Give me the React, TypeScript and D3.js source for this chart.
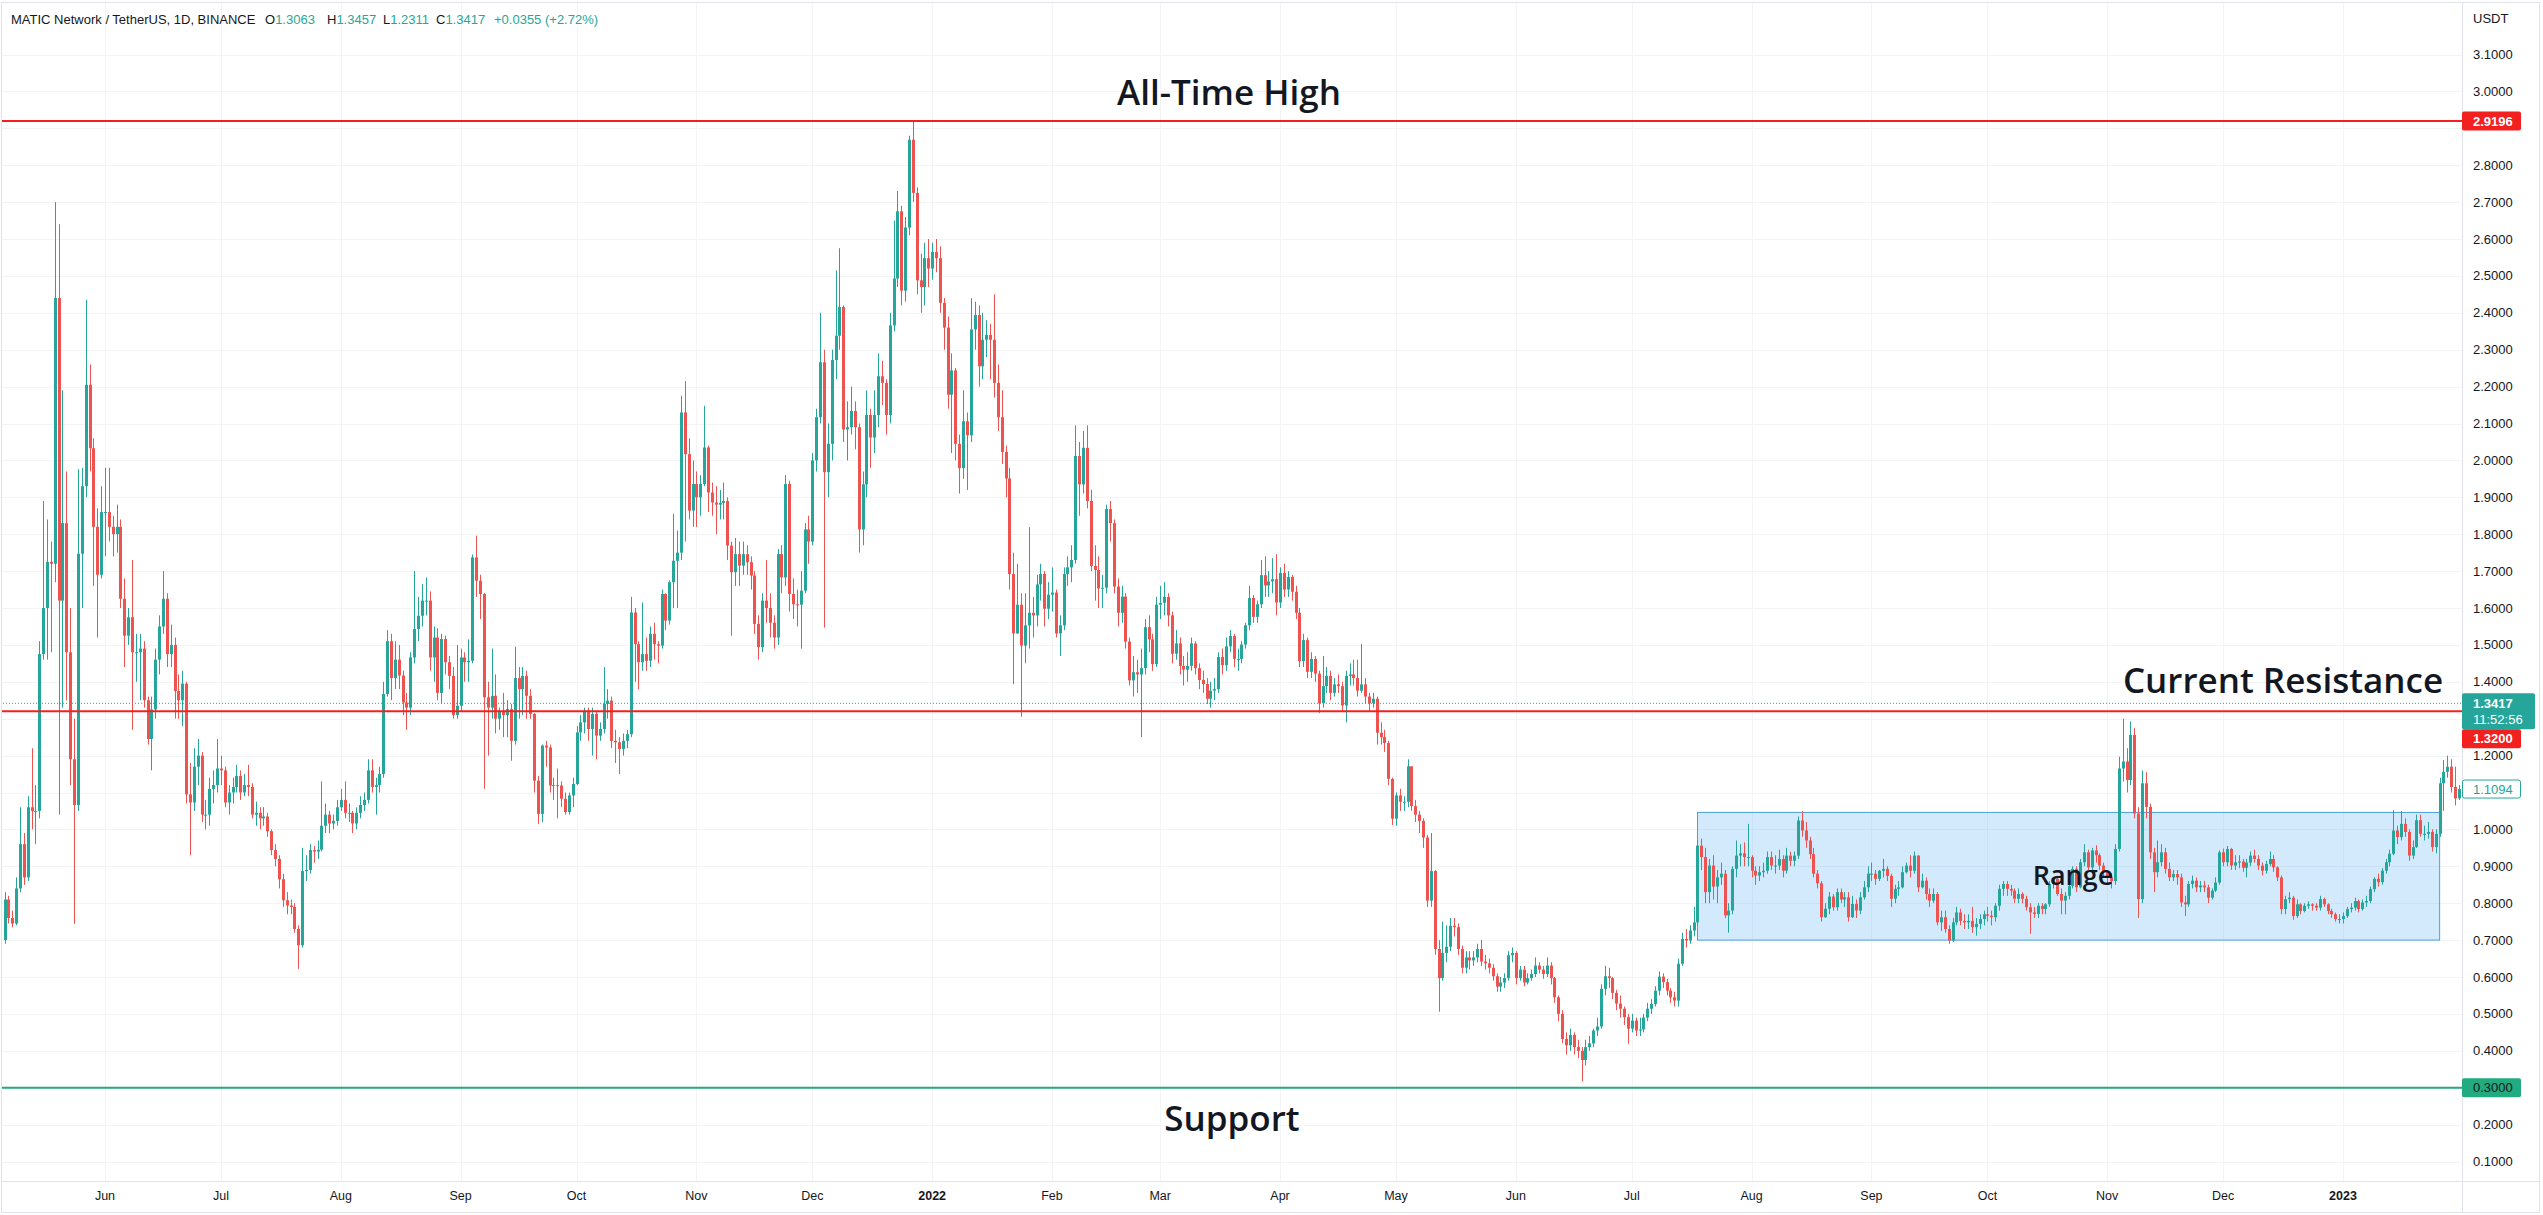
import React from 'react';
import * as d3 from 'd3';

const W = 2543;
const H = 1215;
const START_UTC = Date.UTC(2021, 4, 6); // first visible daily candle
const DAY = 86400000;
const FIRST_OPEN = 0.70;

// Daily closes, May 6 2021 -> Jan 30 2023
const closes: number[] = [
  // May 2021
  0.81,0.76,0.745,0.84,0.96,0.87,1.06,1.05,1.05,1.475,1.60,1.725,1.72,2.44,1.62,1.83,1.48,1.19,1.066,1.747,1.93,2.205,2.033,1.82,1.69,1.86,
  // Jun 2021
  1.86,1.82,1.80,1.82,1.625,1.525,1.575,1.48,1.48,1.49,1.35,1.245,1.325,1.46,1.55,1.625,1.475,1.50,1.375,1.35,1.395,1.095,1.073,1.17,1.20,1.04,1.04,1.11,1.12,1.165,
  // Jul 2021
  1.16,1.073,1.10,1.115,1.145,1.10,1.12,1.115,1.04,1.045,1.03,1.035,0.995,0.944,0.92,0.865,0.808,0.794,0.79,0.73,0.686,0.887,0.89,0.944,0.94,0.945,1.01,1.04,1.016,1.023,1.06,
  // Aug 2021
  1.08,1.045,1.045,1.016,1.045,1.066,1.08,1.16,1.115,1.12,1.15,1.367,1.51,1.41,1.46,1.417,1.344,1.33,1.466,1.543,1.579,1.62,1.62,1.466,1.52,1.37,1.516,1.453,1.416,1.31,1.335,
  // Sep 2021
  1.466,1.453,1.457,1.737,1.674,1.638,1.358,1.33,1.362,1.30,1.32,1.31,1.326,1.24,1.41,1.38,1.416,1.362,1.313,1.132,1.042,1.227,1.222,1.119,1.12,1.119,1.083,1.047,1.092,1.123,
  // Oct 2021
  1.263,1.29,1.322,1.272,1.313,1.254,1.272,1.34,1.349,1.24,1.236,1.218,1.24,1.258,1.588,1.502,1.453,1.475,1.457,1.53,1.502,1.498,1.638,1.566,1.67,1.728,1.75,2.13,2.017,1.864,1.936,
  // Nov 2021
  1.90,1.936,2.035,1.913,1.886,1.88,1.885,1.89,1.769,1.697,1.746,1.715,1.746,1.724,1.688,1.557,1.494,1.62,1.60,1.56,1.52,1.746,1.683,1.936,1.638,1.61,1.609,1.647,1.813,1.78,
  // Dec 2021
  2.00,2.117,2.266,1.968,2.045,2.272,2.338,2.416,2.084,2.09,2.134,2.09,1.813,1.935,2.123,2.062,2.123,2.228,2.21,2.123,2.366,2.493,2.675,2.46,2.631,2.869,2.725,2.488,2.47,2.548,2.52,
  // Jan 2022
  2.565,2.548,2.427,2.36,2.178,2.244,2.045,1.979,2.106,2.068,2.355,2.394,2.255,2.327,2.34,2.327,2.21,2.117,2.023,1.951,1.692,1.531,1.609,1.498,1.553,1.587,1.58,1.664,1.692,1.598,1.636,
  // Feb 2022
  1.642,1.531,1.553,1.692,1.71,1.73,2.012,1.935,2.034,1.89,1.714,1.703,1.653,1.655,1.868,1.83,1.658,1.587,1.631,1.509,1.404,1.426,1.42,1.437,1.548,1.515,1.448,1.609,
  // Mar 2022
  1.614,1.63,1.58,1.476,1.504,1.443,1.433,1.443,1.504,1.437,1.405,1.394,1.354,1.376,1.38,1.467,1.445,1.496,1.524,1.462,1.462,1.501,1.553,1.627,1.576,1.61,1.689,1.661,1.672,1.678,1.615,
  // Apr 2022
  1.695,1.65,1.684,1.644,1.587,1.456,1.513,1.427,1.462,1.422,1.342,1.388,1.416,1.37,1.393,1.388,1.336,1.416,1.42,1.41,1.376,1.393,1.36,1.342,1.354,1.262,1.25,1.234,1.137,1.029,
  // May 2022
  1.092,1.075,1.075,1.171,1.063,1.04,1.023,0.978,0.807,0.887,0.676,0.597,0.665,0.682,0.739,0.735,0.676,0.625,0.653,0.645,0.653,0.676,0.642,0.637,0.625,0.602,0.574,0.585,0.597,0.659,0.665,
  // Jun 2022
  0.597,0.62,0.585,0.597,0.608,0.631,0.62,0.608,0.631,0.597,0.545,0.50,0.432,0.415,0.443,0.41,0.40,0.375,0.41,0.42,0.455,0.466,0.568,0.602,0.597,0.557,0.528,0.514,0.491,0.46,
  // Jul 2022
  0.482,0.455,0.458,0.49,0.514,0.527,0.563,0.601,0.586,0.563,0.545,0.536,0.636,0.703,0.699,0.726,0.748,0.956,0.925,0.83,0.902,0.845,0.87,0.88,0.767,0.78,0.893,0.929,0.935,0.925,0.925,
  // Aug 2022
  0.888,0.875,0.884,0.888,0.925,0.902,0.902,0.92,0.888,0.929,0.915,0.929,1.024,0.997,0.97,0.933,0.88,0.854,0.762,0.785,0.818,0.789,0.83,0.81,0.816,0.762,0.798,0.78,0.816,0.843,0.88,
  // Sep 2022
  0.88,0.866,0.888,0.893,0.874,0.812,0.839,0.843,0.884,0.902,0.888,0.929,0.843,0.861,0.825,0.807,0.825,0.748,0.762,0.73,0.699,0.748,0.775,0.752,0.748,0.752,0.735,0.744,0.757,0.77,
  // Oct 2022
  0.766,0.762,0.793,0.839,0.852,0.839,0.834,0.812,0.825,0.812,0.789,0.775,0.771,0.793,0.784,0.797,0.852,0.866,0.825,0.807,0.82,0.847,0.893,0.843,0.911,0.938,0.897,0.943,0.93,0.902,0.884,
  // Nov 2022
  0.87,0.86,0.947,1.165,1.184,1.134,1.256,1.043,0.811,1.125,1.061,0.938,0.884,0.911,0.938,0.893,0.87,0.879,0.87,0.802,0.797,0.852,0.861,0.843,0.848,0.843,0.815,0.834,0.856,0.938,
  // Dec 2022
  0.911,0.947,0.902,0.911,0.913,0.896,0.91,0.929,0.92,0.902,0.888,0.906,0.92,0.897,0.87,0.784,0.811,0.815,0.765,0.797,0.779,0.793,0.797,0.793,0.788,0.811,0.797,0.779,0.77,0.757,0.757,
  // Jan 2023
  0.765,0.784,0.788,0.806,0.784,0.802,0.806,0.838,0.866,0.857,0.888,0.911,0.934,0.997,0.979,1.015,0.993,0.929,0.952,1.025,0.988,0.988,0.993,0.952,0.988,1.125,1.156,1.17,1.115,1.084,1.1094,
];

const highs: number[] = [
  0.83,0.82,0.78,0.87,1.06,0.99,1.09,1.22,1.12,1.51,1.89,1.84,1.78,2.70,2.64,2.19,1.97,1.60,1.30,1.976,1.98,2.435,2.26,2.06,1.87,1.93,
  1.98,1.98,1.85,1.88,1.84,1.68,1.60,1.73,1.53,1.53,1.51,1.36,1.36,1.49,1.58,1.70,1.64,1.555,1.52,1.42,1.43,1.40,1.18,1.22,1.245,1.21,1.08,1.14,1.16,1.245,
  1.20,1.17,1.12,1.14,1.175,1.16,1.15,1.175,1.125,1.075,1.06,1.06,1.045,1.00,0.96,0.93,0.88,0.83,0.81,0.80,0.74,0.95,0.93,0.96,0.955,0.97,1.13,1.07,1.05,1.04,1.08,
  1.11,1.13,1.07,1.05,1.06,1.09,1.10,1.19,1.19,1.14,1.17,1.40,1.54,1.53,1.51,1.50,1.43,1.37,1.48,1.70,1.63,1.665,1.683,1.645,1.55,1.545,1.53,1.525,1.47,1.44,1.50,
  1.49,1.48,1.515,1.745,1.796,1.69,1.64,1.40,1.49,1.42,1.33,1.37,1.35,1.34,1.495,1.44,1.44,1.43,1.38,1.315,1.145,1.23,1.24,1.23,1.14,1.165,1.13,1.10,1.10,1.14,
  1.28,1.31,1.33,1.33,1.33,1.32,1.29,1.44,1.38,1.36,1.27,1.25,1.26,1.27,1.63,1.60,1.51,1.615,1.52,1.55,1.56,1.51,1.65,1.64,1.675,1.855,1.81,2.175,2.215,2.06,2.00,
  1.97,1.96,2.148,2.04,1.94,1.93,1.92,1.94,1.90,1.78,1.79,1.78,1.78,1.77,1.74,1.70,1.58,1.64,1.73,1.64,1.58,1.76,1.77,1.96,1.945,1.68,1.65,1.70,1.83,1.85,
  2.02,2.14,2.40,2.30,2.10,2.30,2.515,2.575,2.42,2.16,2.20,2.16,2.10,1.97,2.19,2.14,2.19,2.29,2.27,2.22,2.40,2.65,2.73,2.69,2.66,2.88,2.919,2.74,2.56,2.59,2.60,
  2.59,2.60,2.58,2.44,2.39,2.29,2.25,2.07,2.19,2.13,2.44,2.43,2.42,2.40,2.38,2.37,2.45,2.26,2.19,2.04,1.98,1.75,1.72,1.64,1.64,1.819,1.63,1.69,1.72,1.70,1.67,
  1.71,1.65,1.58,1.71,1.74,1.77,2.095,2.05,2.08,2.095,1.92,1.77,1.74,1.69,1.88,1.89,1.84,1.68,1.66,1.64,1.52,1.47,1.46,1.49,1.57,1.58,1.53,1.63,
  1.66,1.67,1.64,1.59,1.54,1.52,1.47,1.48,1.52,1.51,1.45,1.43,1.41,1.40,1.41,1.48,1.49,1.52,1.54,1.53,1.49,1.51,1.56,1.66,1.635,1.62,1.73,1.74,1.70,1.735,1.746,
  1.71,1.72,1.70,1.69,1.66,1.60,1.53,1.52,1.48,1.47,1.43,1.47,1.44,1.43,1.41,1.42,1.40,1.43,1.45,1.46,1.46,1.503,1.41,1.37,1.37,1.36,1.29,1.27,1.24,1.14,
  1.10,1.11,1.09,1.19,1.17,1.08,1.05,1.03,0.985,0.99,0.89,0.70,0.75,0.74,0.76,0.76,0.745,0.685,0.67,0.67,0.67,0.69,0.70,0.66,0.65,0.635,0.61,0.60,0.61,0.67,0.68,
  0.67,0.63,0.63,0.61,0.62,0.653,0.64,0.63,0.653,0.64,0.60,0.55,0.51,0.45,0.46,0.45,0.43,0.41,0.43,0.44,0.46,0.49,0.58,0.63,0.625,0.60,0.565,0.55,0.52,0.50,
  0.50,0.49,0.49,0.50,0.53,0.54,0.575,0.615,0.61,0.595,0.57,0.56,0.65,0.72,0.73,0.74,0.79,0.97,0.975,0.95,0.92,0.93,0.89,0.91,0.89,0.80,0.90,0.97,0.96,0.965,1.015,
  0.93,0.90,0.90,0.91,0.94,0.94,0.93,0.945,0.93,0.95,0.94,0.94,1.035,1.05,1.02,0.98,0.95,0.89,0.86,0.80,0.83,0.825,0.84,0.84,0.83,0.83,0.82,0.81,0.83,0.86,0.90,
  0.91,0.89,0.89,0.92,0.90,0.88,0.85,0.86,0.90,0.91,0.93,0.94,0.93,0.88,0.87,0.84,0.84,0.83,0.78,0.78,0.74,0.76,0.79,0.785,0.77,0.77,0.79,0.76,0.77,0.78,
  0.79,0.78,0.80,0.85,0.86,0.86,0.85,0.84,0.84,0.83,0.82,0.80,0.79,0.80,0.80,0.80,0.86,0.87,0.875,0.84,0.83,0.85,0.90,0.90,0.92,0.96,0.945,0.95,0.957,0.935,0.91,
  0.89,0.88,0.96,1.197,1.30,1.22,1.293,1.275,1.06,1.16,1.155,1.07,0.95,0.97,0.96,0.95,0.91,0.89,0.89,0.88,0.82,0.86,0.875,0.87,0.86,0.86,0.85,0.84,0.87,0.943,
  0.948,0.955,0.95,0.93,0.93,0.92,0.92,0.94,0.945,0.93,0.91,0.915,0.94,0.93,0.90,0.875,0.82,0.83,0.82,0.81,0.80,0.80,0.805,0.80,0.80,0.82,0.815,0.80,0.785,0.775,0.77,
  0.775,0.79,0.80,0.815,0.81,0.81,0.82,0.845,0.87,0.88,0.895,0.92,0.945,1.052,1.01,1.05,1.03,1.00,0.97,1.04,1.04,1.01,1.02,1.00,1.00,1.14,1.188,1.20,1.19,1.17,1.12,
];

const lows: number[] = [
  0.69,0.745,0.735,0.74,0.83,0.85,0.86,1.00,0.96,1.03,1.46,1.46,1.48,1.67,1.04,1.33,1.35,1.12,0.744,1.05,1.60,1.90,1.97,1.66,1.52,1.68,
  1.74,1.78,1.74,1.75,1.60,1.44,1.50,1.27,1.40,1.35,1.33,1.23,1.16,1.30,1.42,1.53,1.44,1.44,1.30,1.30,1.28,1.07,0.93,1.05,1.12,1.02,1.00,1.01,1.07,1.10,
  1.12,1.06,1.04,1.07,1.10,1.08,1.09,1.09,1.03,1.01,1.00,1.01,0.98,0.93,0.90,0.84,0.79,0.77,0.77,0.72,0.622,0.68,0.86,0.88,0.91,0.92,0.94,0.99,0.99,1.00,1.01,
  1.05,1.03,1.02,0.99,1.00,1.03,1.05,1.07,1.10,1.04,1.10,1.14,1.36,1.35,1.38,1.38,1.31,1.27,1.31,1.45,1.51,1.55,1.58,1.43,1.40,1.35,1.34,1.42,1.38,1.30,1.30,
  1.32,1.40,1.40,1.45,1.63,1.57,1.11,1.20,1.30,1.26,1.27,1.25,1.25,1.186,1.23,1.30,1.31,1.30,1.30,1.10,1.015,1.02,1.17,1.10,1.08,1.03,1.06,1.04,1.04,1.06,
  1.12,1.24,1.26,1.24,1.20,1.19,1.24,1.26,1.30,1.22,1.18,1.15,1.20,1.22,1.25,1.40,1.38,1.43,1.43,1.44,1.46,1.45,1.49,1.54,1.555,1.60,1.60,1.73,1.78,1.84,1.82,
  1.82,1.85,1.93,1.86,1.85,1.80,1.84,1.84,1.73,1.525,1.66,1.66,1.69,1.69,1.65,1.53,1.46,1.48,1.56,1.52,1.49,1.50,1.64,1.66,1.59,1.57,1.55,1.49,1.64,1.72,
  1.77,1.97,2.10,1.547,1.90,2.00,2.22,2.30,2.05,2.00,2.07,2.03,1.75,1.77,1.90,1.98,2.02,2.09,2.15,2.07,2.10,2.35,2.47,2.42,2.43,2.61,2.70,2.45,2.40,2.42,2.47,
  2.49,2.51,2.40,2.30,2.14,2.02,2.00,1.91,1.95,1.92,2.05,2.30,2.20,2.22,2.28,2.22,2.17,2.08,1.99,1.90,1.65,1.393,1.53,1.305,1.45,1.49,1.52,1.55,1.62,1.55,1.57,
  1.59,1.52,1.47,1.54,1.66,1.67,1.72,1.85,1.91,1.87,1.70,1.62,1.60,1.60,1.64,1.78,1.64,1.55,1.56,1.49,1.39,1.36,1.37,1.25,1.42,1.48,1.43,1.44,
  1.57,1.58,1.55,1.45,1.46,1.42,1.39,1.40,1.43,1.42,1.38,1.37,1.34,1.33,1.35,1.37,1.42,1.43,1.48,1.44,1.43,1.45,1.49,1.54,1.56,1.56,1.60,1.63,1.63,1.64,1.58,
  1.60,1.63,1.63,1.62,1.57,1.44,1.44,1.41,1.41,1.40,1.315,1.33,1.37,1.35,1.36,1.37,1.32,1.29,1.39,1.39,1.36,1.37,1.34,1.32,1.33,1.23,1.23,1.21,1.12,1.012,
  1.01,1.05,1.05,1.06,1.05,1.02,0.99,0.95,0.79,0.79,0.66,0.506,0.59,0.64,0.67,0.71,0.66,0.61,0.61,0.62,0.63,0.64,0.63,0.62,0.61,0.59,0.56,0.56,0.57,0.59,0.64,
  0.58,0.59,0.575,0.58,0.59,0.60,0.61,0.595,0.60,0.58,0.53,0.48,0.42,0.39,0.40,0.39,0.38,0.317,0.36,0.40,0.41,0.44,0.46,0.55,0.57,0.54,0.51,0.49,0.47,0.419,
  0.45,0.44,0.44,0.45,0.48,0.50,0.52,0.55,0.57,0.55,0.53,0.52,0.52,0.63,0.68,0.69,0.71,0.74,0.89,0.80,0.80,0.81,0.80,0.85,0.76,0.72,0.77,0.87,0.90,0.90,0.90,
  0.87,0.85,0.86,0.87,0.88,0.89,0.88,0.89,0.87,0.88,0.90,0.90,0.92,0.98,0.95,0.92,0.87,0.84,0.75,0.76,0.77,0.78,0.78,0.80,0.79,0.75,0.76,0.76,0.77,0.81,0.83,
  0.86,0.85,0.86,0.87,0.86,0.79,0.80,0.82,0.84,0.88,0.87,0.88,0.83,0.84,0.81,0.79,0.80,0.74,0.725,0.72,0.69,0.695,0.74,0.74,0.73,0.73,0.72,0.712,0.73,0.74,
  0.75,0.74,0.75,0.78,0.82,0.82,0.82,0.80,0.80,0.80,0.78,0.717,0.76,0.76,0.77,0.77,0.79,0.84,0.82,0.77,0.77,0.81,0.84,0.83,0.84,0.90,0.89,0.88,0.91,0.89,0.87,
  0.85,0.84,0.85,0.94,1.13,1.10,1.12,1.03,0.76,0.80,1.03,0.92,0.83,0.87,0.90,0.88,0.86,0.86,0.85,0.79,0.765,0.79,0.84,0.83,0.83,0.83,0.80,0.81,0.83,0.85,
  0.90,0.90,0.89,0.89,0.895,0.885,0.87,0.90,0.91,0.89,0.875,0.88,0.90,0.885,0.86,0.77,0.77,0.80,0.755,0.76,0.77,0.775,0.785,0.78,0.78,0.78,0.79,0.77,0.76,0.75,0.745,
  0.745,0.76,0.775,0.78,0.775,0.78,0.79,0.80,0.83,0.845,0.85,0.88,0.90,0.93,0.96,0.97,0.98,0.915,0.92,0.95,0.98,0.97,0.975,0.94,0.935,0.98,1.05,1.14,1.10,1.065,1.08,
];

const priceTicks: number[] = [0.1,0.2,0.3,0.4,0.5,0.6,0.7,0.8,0.9,1.0,1.1,1.2,1.3,1.4,1.5,1.6,1.7,1.8,1.9,2.0,2.1,2.2,2.3,2.4,2.5,2.6,2.7,2.8,2.9,3.0,3.1];

const monthTicks: [string, string][] = [
  ['2021-06-01','Jun'],['2021-07-01','Jul'],['2021-08-01','Aug'],['2021-09-01','Sep'],['2021-10-01','Oct'],
  ['2021-11-01','Nov'],['2021-12-01','Dec'],['2022-01-01','2022'],['2022-02-01','Feb'],['2022-03-01','Mar'],
  ['2022-04-01','Apr'],['2022-05-01','May'],['2022-06-01','Jun'],['2022-07-01','Jul'],['2022-08-01','Aug'],
  ['2022-09-01','Sep'],['2022-10-01','Oct'],['2022-11-01','Nov'],['2022-12-01','Dec'],['2023-01-01','2023'],
];

const levelATH = 2.9196;
const levelResistance = 1.32;
const levelSupport = 0.30;
const lastPrice = 1.3417;
const markPrice = 1.1094;
const rangeBox = { start: '2022-07-18', end: '2023-01-26', low: 0.70, high: 1.046 };

const header = {
  title: 'MATIC Network / TetherUS, 1D, BINANCE',
  o: '1.3063', h: '1.3457', l: '1.2311', c: '1.3417', chg: '+0.0355 (+2.72%)',
};

const UP = '#26a69a';
const DOWN = '#ef5350';
const RED = '#f2201f';
const GREEN = '#22ab7e';
const UI_FONT = "'Liberation Sans', Arial, sans-serif";
const ANN_FONT = "'Open Sans', 'Noto Sans', sans-serif";

export default function App() {
  const plotRight = 2462;
  const timeAxisY = 1181;
  const x = d3.scaleUtc()
    .domain([new Date(Date.UTC(2021, 5, 1)), new Date(Date.UTC(2023, 0, 1))])
    .range([105, 2343]);
  const y = d3.scaleLinear().domain([0.1, 3.1]).range([1161.5, 54.5]);

  const candles = closes.map((c, i) => {
    const o = i === 0 ? FIRST_OPEN : closes[i - 1];
    const hi = Math.max(highs[i], o, c);
    const lo = Math.min(lows[i], o, c);
    const cx = Math.round(x(new Date(START_UTC + i * DAY)));
    return { o, c, hi, lo, cx };
  });

  const yLast = y(lastPrice);
  const tealTop = yLast - 10;
  const redTop = tealTop + 36;

  // price-scale tick labels hidden behind the coloured price labels
  const labelCenters = [y(levelATH), yLast, yLast + 16, redTop + 9.5, y(markPrice), y(levelSupport)];
  const visibleTicks = priceTicks.filter((t) => labelCenters.every((c) => Math.abs(y(t) - c) > 13));

  const boxX0 = x(new Date(rangeBox.start + 'T00:00:00Z'));
  const boxX1 = x(new Date(rangeBox.end + 'T00:00:00Z'));

  return (
    <svg width={W} height={H} style={{ position: 'absolute', left: 0, top: 0, background: '#ffffff' }}
      xmlns="http://www.w3.org/2000/svg">
      <defs>
        <clipPath id="plot">
          <rect x={2} y={3} width={plotRight - 2} height={timeAxisY - 3} />
        </clipPath>
      </defs>
      <rect x={0} y={0} width={W} height={H} fill="#ffffff" />

      {/* grid */}
      <g clipPath="url(#plot)">
        {priceTicks.map((t) => (
          <line key={'gh' + t} x1={0} x2={plotRight} y1={Math.round(y(t)) + 0.5} y2={Math.round(y(t)) + 0.5}
            stroke="#f3f4f8" strokeWidth={1} />
        ))}
        {monthTicks.map(([d]) => {
          const px = Math.round(x(new Date(d + 'T00:00:00Z'))) + 0.5;
          return <line key={'gv' + d} x1={px} x2={px} y1={0} y2={timeAxisY} stroke="#f3f4f8" strokeWidth={1} />;
        })}
      </g>

      {/* range box */}
      <g clipPath="url(#plot)">
        <rect x={boxX0} y={y(rangeBox.high)} width={boxX1 - boxX0} height={y(rangeBox.low) - y(rangeBox.high)}
          fill="rgba(33,150,243,0.2)" stroke="#4b9fe1" strokeWidth={1} />
      </g>

      {/* candles */}
      <g clipPath="url(#plot)">
        {candles.map((d, i) => {
          const col = d.c >= d.o ? UP : DOWN;
          const yTop = y(Math.max(d.o, d.c));
          const yBot = y(Math.min(d.o, d.c));
          return (
            <g key={i}>
              <line x1={d.cx + 0.5} x2={d.cx + 0.5} y1={y(d.hi)} y2={y(d.lo)} stroke={col} strokeWidth={1} />
              <rect x={d.cx - 1} y={yTop} width={3} height={Math.max(1, yBot - yTop)} fill={col} />
            </g>
          );
        })}
      </g>

      {/* level lines */}
      <g clipPath="url(#plot)">
        <line x1={0} x2={plotRight} y1={yLast} y2={yLast} stroke={UP} strokeWidth={1} strokeDasharray="1 2" />
        <line x1={0} x2={plotRight} y1={y(levelATH)} y2={y(levelATH)} stroke={RED} strokeWidth={2} />
        <line x1={0} x2={plotRight} y1={y(levelResistance)} y2={y(levelResistance)} stroke={RED} strokeWidth={2} />
        <line x1={0} x2={plotRight} y1={y(levelSupport)} y2={y(levelSupport)} stroke={GREEN} strokeWidth={2} />
      </g>

      {/* annotations */}
      <g fontFamily={ANN_FONT} fontWeight={600} fill="#131722" textAnchor="middle">
        <text x={1229} y={105} fontSize={35}>All-Time High</text>
        <text x={2283} y={693} fontSize={35}>Current Resistance</text>
        <text x={1232} y={1131} fontSize={35}>Support</text>
        <text x={2073} y={885} fontSize={27}>Range</text>
      </g>

      {/* header */}
      <g fontFamily={UI_FONT} fontSize={13} fill="#131722">
        <text x={11} y={24}>{header.title}</text>
        <text x={265} y={24}>O<tspan fill={UP}>{header.o}</tspan></text>
        <text x={327} y={24}>H<tspan fill={UP}>{header.h}</tspan></text>
        <text x={383} y={24}>L<tspan fill={UP}>{header.l}</tspan></text>
        <text x={436} y={24}>C<tspan fill={UP}>{header.c}</tspan></text>
        <text x={494} y={24} fill={UP}>{header.chg}</text>
      </g>

      {/* frame & axis separators */}
      <rect x={1.5} y={2.5} width={2538} height={1210} fill="none" stroke="#e0e3eb" strokeWidth={1} />
      <line x1={plotRight + 0.5} x2={plotRight + 0.5} y1={2.5} y2={1212.5} stroke="#e0e3eb" strokeWidth={1} />
      <line x1={1.5} x2={2539.5} y1={timeAxisY + 0.5} y2={timeAxisY + 0.5} stroke="#e0e3eb" strokeWidth={1} />

      {/* price axis */}
      <g fontFamily={UI_FONT} fontSize={13} fill="#131722">
        <text x={2473} y={23}>USDT</text>
        {visibleTicks.map((t) => (
          <text key={'pt' + t} x={2473} y={y(t) + 4.5}>{t.toFixed(4)}</text>
        ))}
      </g>

      {/* price labels */}
      <g fontFamily={UI_FONT} fontSize={13} fontWeight={600}>
        <rect x={2462} y={y(levelATH) - 9.5} width={59} height={19} rx={2} fill={RED} />
        <text x={2473} y={y(levelATH) + 4.5} fill="#ffffff">{levelATH.toFixed(4)}</text>

        <rect x={2462} y={tealTop} width={73} height={36} rx={2} fill={UP} />
        <text x={2473} y={yLast + 4.5} fill="#ffffff">{lastPrice.toFixed(4)}</text>
        <text x={2473} y={yLast + 21} fill="#ffffff" fontWeight={400}>11:52:56</text>

        <rect x={2462} y={redTop} width={59} height={19} rx={2} fill={RED} />
        <text x={2473} y={redTop + 14} fill="#ffffff">{levelResistance.toFixed(4)}</text>

        <rect x={2462.5} y={y(markPrice) - 9} width={58} height={18} rx={2} fill="#ffffff" stroke={UP} strokeWidth={1} />
        <text x={2473} y={y(markPrice) + 4.5} fill={UP} fontWeight={400}>{markPrice.toFixed(4)}</text>

        <rect x={2462} y={y(levelSupport) - 9.5} width={59} height={19} rx={2} fill={GREEN} />
        <text x={2473} y={y(levelSupport) + 4.5} fill="#131722" fontWeight={400}>{levelSupport.toFixed(4)}</text>
      </g>

      {/* time axis */}
      <g fontFamily={UI_FONT} fontSize={12.5} fill="#131722" textAnchor="middle">
        {monthTicks.map(([d, label]) => (
          <text key={'mt' + d} x={x(new Date(d + 'T00:00:00Z'))} y={1200}
            fontWeight={/^\d{4}$/.test(label) ? 700 : 400}>{label}</text>
        ))}
      </g>
    </svg>
  );
}
